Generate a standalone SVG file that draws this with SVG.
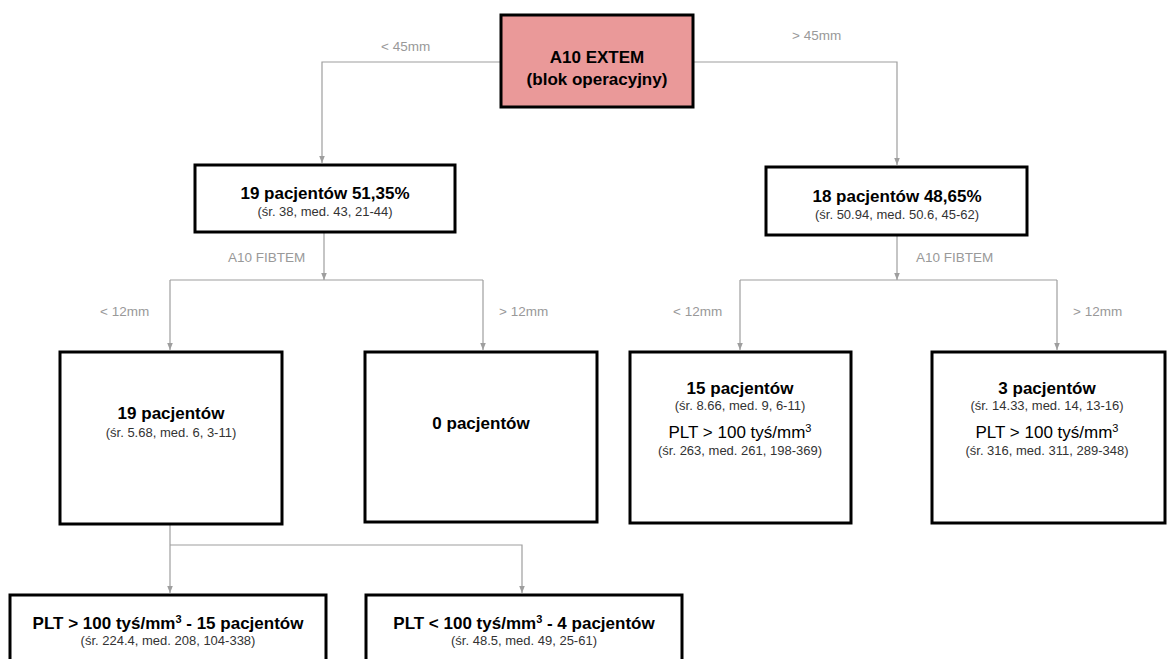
<svg xmlns="http://www.w3.org/2000/svg" width="1167" height="659" viewBox="0 0 1167 659">
<style>
.box{fill:#ffffff;stroke:#000000;stroke-width:3}
.hot{fill:#ea9999}
.t{font-family:"Liberation Sans",Arial,sans-serif;font-weight:bold;font-size:17px;fill:#000;text-anchor:middle}
.r{font-family:"Liberation Sans",Arial,sans-serif;font-size:17px;fill:#000;text-anchor:middle}
.s{font-family:"Liberation Sans",Arial,sans-serif;font-size:13px;fill:#333;text-anchor:middle}
.l{font-family:"Liberation Sans",Arial,sans-serif;font-size:13.5px;fill:#999}
.c{fill:none;stroke:#9e9e9e;stroke-width:1.2}
</style>
<defs>
<marker id="ah" viewBox="0 0 10 10" refX="10" refY="5" markerWidth="7" markerHeight="7" markerUnits="userSpaceOnUse" orient="auto">
<path d="M0,1 L10,5 L0,9 z" fill="#9e9e9e"/>
</marker>
</defs>
<rect width="1167" height="659" fill="#ffffff"/>
<g id="connectors">
<polyline class="c" points="501,62 322,62 322,163" marker-end="url(#ah)"/>
<polyline class="c" points="693,62 897,62 897,165" marker-end="url(#ah)"/>
<line class="c" x1="324" y1="232" x2="324" y2="280" marker-end="url(#ah)"/>
<line class="c" x1="170" y1="280" x2="483" y2="280"/>
<line class="c" x1="170" y1="280" x2="170" y2="350" marker-end="url(#ah)"/>
<line class="c" x1="483" y1="280" x2="483" y2="350" marker-end="url(#ah)"/>
<line class="c" x1="897" y1="235" x2="897" y2="280" marker-end="url(#ah)"/>
<line class="c" x1="740" y1="280" x2="1057" y2="280"/>
<line class="c" x1="740" y1="280" x2="740" y2="350" marker-end="url(#ah)"/>
<line class="c" x1="1057" y1="280" x2="1057" y2="350" marker-end="url(#ah)"/>
<line class="c" x1="170" y1="524" x2="170" y2="593" marker-end="url(#ah)"/>
<polyline class="c" points="170,545 522,545 522,593" marker-end="url(#ah)"/>
<text class="l" x="381" y="51">&lt; 45mm</text>
<text class="l" x="792" y="40">&gt; 45mm</text>
<text class="l" x="228" y="262">A10 FIBTEM</text>
<text class="l" x="916" y="262">A10 FIBTEM</text>
<text class="l" x="100" y="316">&lt; 12mm</text>
<text class="l" x="499" y="316">&gt; 12mm</text>
<text class="l" x="673" y="316">&lt; 12mm</text>
<text class="l" x="1073" y="316">&gt; 12mm</text>
</g>
<g id="root">
<rect class="box hot" x="501" y="15" width="192" height="92"/>
<text class="t" x="597" y="63">A10 EXTEM</text>
<text class="t" x="597" y="85">(blok operacyjny)</text>
</g>
<g id="left-l2">
<rect class="box" x="195" y="165" width="260" height="67"/>
<text class="t" x="325" y="199">19 pacjentów 51,35%</text>
<text class="s" x="325" y="216">(śr. 38, med. 43, 21-44)</text>
</g>
<g id="right-l2">
<rect class="box" x="766" y="167" width="261" height="68"/>
<text class="t" x="897" y="202">18 pacjentów 48,65%</text>
<text class="s" x="897" y="219">(śr. 50.94, med. 50.6, 45-62)</text>
</g>
<g id="l3-a">
<rect class="box" x="60" y="352" width="222" height="172"/>
<text class="t" x="171" y="419">19 pacjentów</text>
<text class="s" x="171" y="437">(śr. 5.68, med. 6, 3-11)</text>
</g>
<g id="l3-b">
<rect class="box" x="365" y="352" width="232" height="170"/>
<text class="t" x="481" y="429">0 pacjentów</text>
</g>
<g id="l3-c">
<rect class="box" x="630" y="352" width="221" height="171"/>
<text class="t" x="740" y="394">15 pacjentów</text>
<text class="s" x="740" y="410">(śr. 8.66, med. 9, 6-11)</text>
<text class="r" x="740" y="438">PLT &gt; 100 tyś/mm<tspan dy="-6" font-size="11">3</tspan></text>
<text class="s" x="740" y="455">(śr. 263, med. 261, 198-369)</text>
</g>
<g id="l3-d">
<rect class="box" x="932" y="352" width="233" height="171"/>
<text class="t" x="1047" y="394">3 pacjentów</text>
<text class="s" x="1047" y="410">(śr. 14.33, med. 14, 13-16)</text>
<text class="r" x="1047" y="438">PLT &gt; 100 tyś/mm<tspan dy="-6" font-size="11">3</tspan></text>
<text class="s" x="1047" y="455">(śr. 316, med. 311, 289-348)</text>
</g>
<g id="l4-e">
<rect class="box" x="10" y="595" width="316" height="75"/>
<text class="t" x="168" y="629">PLT &gt; 100 tyś/mm<tspan dy="-6" font-size="11">3</tspan><tspan dy="6"> - 15 pacjentów</tspan></text>
<text class="s" x="168" y="645">(śr. 224.4, med. 208, 104-338)</text>
</g>
<g id="l4-f">
<rect class="box" x="366" y="595" width="316" height="75"/>
<text class="t" x="524" y="629">PLT &lt; 100 tyś/mm<tspan dy="-6" font-size="11">3</tspan><tspan dy="6"> - 4 pacjentów</tspan></text>
<text class="s" x="524" y="645">(śr. 48.5, med. 49, 25-61)</text>
</g>
</svg>
